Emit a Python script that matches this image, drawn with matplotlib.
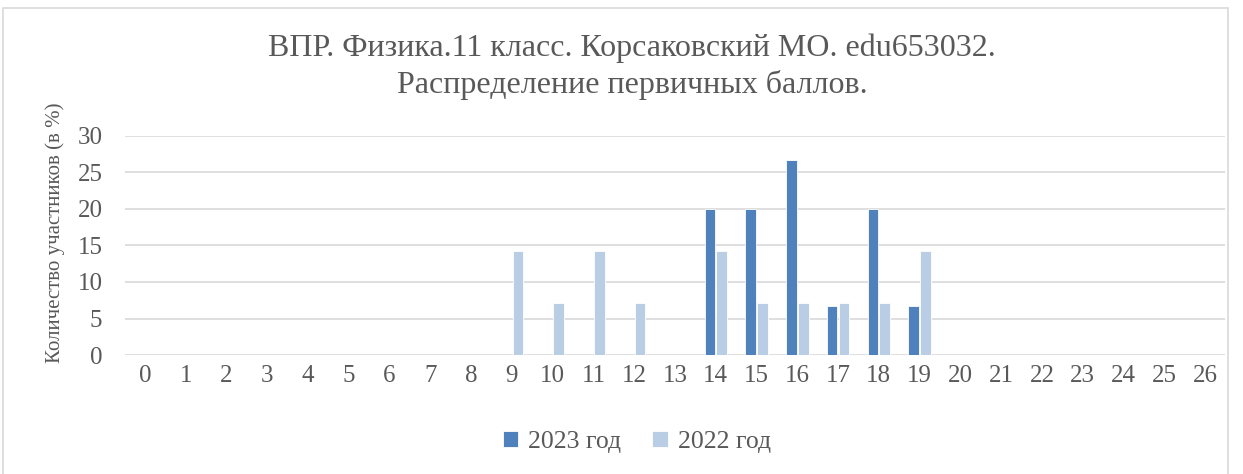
import matplotlib.pyplot as plt
import numpy as np
from matplotlib.patches import Rectangle

# scores 0..26
scores = list(range(27))
y2023 = [0, 0, 0, 0, 0, 0, 0, 0, 0, 0, 0, 0, 0, 0, 20, 20, 26.67, 6.67, 20, 6.67, 0, 0, 0, 0, 0, 0, 0]
y2022 = [0, 0, 0, 0, 0, 0, 0, 0, 0, 14.29, 7.14, 14.29, 7.14, 0, 14.29, 7.14, 7.14, 7.14, 7.14, 14.29, 0, 0, 0, 0, 0, 0, 0]
labels = ['2023 год', '2022 год']
title = 'ВПР. Физика.11 класс. Корсаковский МО. edu653032.\nРаспределение первичных баллов.'

plt.rcParams['font.family'] = ['Liberation Serif', 'DejaVu Serif']
txt = '#595959'

fig = plt.figure(figsize=(12.43, 4.74), dpi=100)
W, H = 1243, 474

# chart frame
fig.patches.append(Rectangle((3 / W, -0.01), 1225 / W, 1 - 8 / H + 0.01, transform=fig.transFigure,
                             fill=False, edgecolor='#D9D9D9', linewidth=1.2))

ax = fig.add_axes([124.6 / W, 1 - 355 / H, 1100.8 / W, 219 / H])
x = np.arange(len(scores))
w = 0.26
ax.bar(x - 0.145, y2023, w, color='#4F81BD', edgecolor='white', linewidth=0.6, label=labels[0], zorder=3)
ax.bar(x + 0.145, y2022, w, color='#B9CDE5', edgecolor='white', linewidth=0.6, label=labels[1], zorder=3)

ax.set_xlim(-0.5, 26.5)
ax.set_ylim(0, 30)
ax.set_yticks(range(0, 31, 5))
ax.set_xticks(x)
ax.set_xticklabels([str(s) for s in scores])
ax.grid(axis='y', color='#D9D9D9', linewidth=1.2, zorder=0)
for s in ax.spines.values():
    s.set_visible(False)
ax.tick_params(length=0, labelsize=18, colors=txt, pad=7)
ax.tick_params(axis='y', pad=16)
ax.set_ylabel('Количество участников (в %)', fontsize=15, color=txt)
ax.yaxis.set_label_coords(-0.054, 0.56)

fig.text(632 / W, 1 - 67 / H, title, ha='center', va='center', fontsize=23, color=txt, linespacing=1.3)

fig.legend(loc='center', bbox_to_anchor=(637 / W, 1 - 442 / H), ncol=2, frameon=False,
           fontsize=18.5, labelcolor=txt, handlelength=0.6, handleheight=0.6, columnspacing=1.2, handletextpad=0.4)

fig.savefig('out.png', dpi=100)
